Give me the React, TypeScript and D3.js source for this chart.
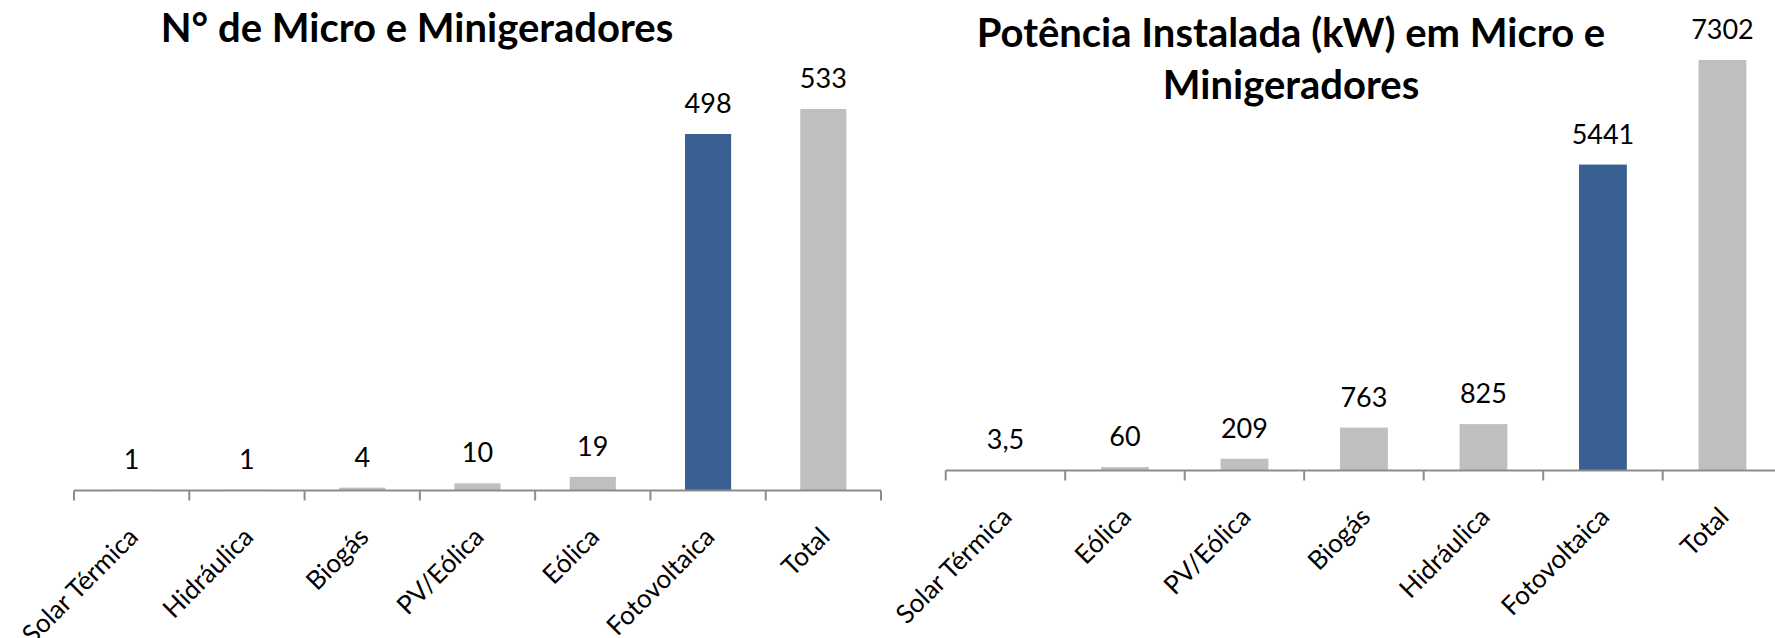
import React, { useEffect } from "react";
import * as d3 from "d3";

// Number of micro and mini generators per source
const countCategories = ["Solar Térmica", "Hidráulica", "Biogás", "PV/Eólica", "Eólica", "Fotovoltaica", "Total"];
const countValues = [1, 1, 4, 10, 19, 498, 533];
const countMax = 600;

// Installed power (kW) per source
const powerCategories = ["Solar Térmica", "Eólica", "PV/Eólica", "Biogás", "Hidráulica", "Fotovoltaica", "Total"];
const powerValues = [3.5, 60, 209, 763, 825, 5441, 7302];
const powerMax = 8000;

const titleLeft = ["N° de Micro e Minigeradores"];
const titleRight = ["Potência Instalada (kW) em Micro e", "Minigeradores"];

const highlight = "Fotovoltaica";

const W = 1775;
const H = 638;
const FONT = "Lato, 'Open Sans', sans-serif";
const BLUE = "#386092";
const GRAY = "#BFBFBF";
const AXIS = "#8C8C8C";

const fmt = (v: number) => String(v).replace(".", ",");

type PanelProps = {
  categories: string[];
  values: number[];
  max: number;
  x0: number;
  x1: number;
  baseY: number;
  topY: number;
  title: string[];
  titleX: number;
  titleY: number;
};

function Panel({ categories, values, max, x0, x1, baseY, topY, title, titleX, titleY }: PanelProps) {
  const x = d3.scaleBand<string>().domain(categories).range([x0, x1]).padding(0);
  const y = d3.scaleLinear().domain([0, max]).range([baseY, topY]);
  const step = x.step();
  const barW = step * 0.4;
  const ticks = d3.range(categories.length + 1).map((i) => x0 + i * step);

  return (
    <g>
      {title.map((t, i) => (
        <text
          key={i}
          x={titleX}
          y={titleY + i * 52.6}
          textAnchor="middle"
          fontFamily={FONT}
          fontWeight={700}
          fontSize={40}
          fill="#000"
        >
          {t}
        </text>
      ))}
      {categories.map((c, i) => {
        const cx = (x(c) as number) + step / 2;
        const v = values[i];
        return (
          <g key={c}>
            <rect
              x={cx - barW / 2}
              y={y(v)}
              width={barW}
              height={baseY - y(v)}
              fill={c === highlight ? BLUE : GRAY}
            />
            <text
              x={cx}
              y={y(v) - 21}
              textAnchor="middle"
              fontFamily={FONT}
              fontSize={27}
              fill="#000"
            >
              {fmt(v)}
            </text>
            <text
              transform={`translate(${cx + 8},${baseY + 48}) rotate(-45)`}
              textAnchor="end"
              fontFamily={FONT}
              fontSize={26}
              fill="#000"
            >
              {c}
            </text>
          </g>
        );
      })}
      <line x1={x0} x2={x1} y1={baseY} y2={baseY} stroke={AXIS} strokeWidth={2} />
      {ticks.map((t, i) => (
        <line key={i} x1={t} x2={t} y1={baseY} y2={baseY + 10} stroke={AXIS} strokeWidth={2} />
      ))}
    </g>
  );
}

export default function App() {
  useEffect(() => {
    document.body.style.margin = "0";
  }, []);
  return (
    <svg width={W} height={H} style={{ display: "block", background: "#fff" }}>
      <rect width={W} height={H} fill="#fff" />
      <Panel
        categories={countCategories}
        values={countValues}
        max={countMax}
        x0={74}
        x1={881}
        baseY={490.5}
        topY={61}
        title={titleLeft}
        titleX={417}
        titleY={42}
      />
      <Panel
        categories={powerCategories}
        values={powerValues}
        max={powerMax}
        x0={945.7}
        x1={1782.2}
        baseY={470.5}
        topY={20.7}
        title={titleRight}
        titleX={1291}
        titleY={46.7}
      />
    </svg>
  );
}
